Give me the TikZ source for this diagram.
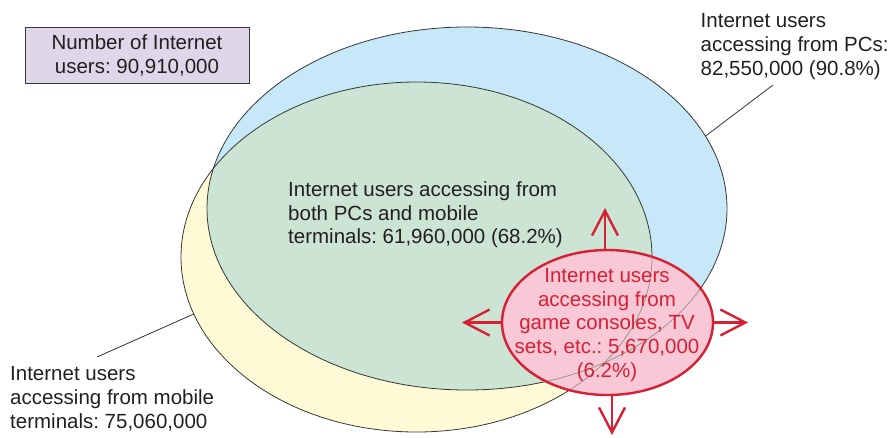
\documentclass[tikz,border=0pt]{standalone}
\usepackage{fontspec}
\setmainfont{Liberation Sans}
\usetikzlibrary{shapes.geometric,arrows.meta,calc}

\definecolor{pcblue}{RGB}{198,232,248}
\definecolor{mobyellow}{RGB}{255,250,214}
\definecolor{bothgreen}{RGB}{203,228,211}
\definecolor{gamepink}{RGB}{248,200,214}
\definecolor{gamered}{RGB}{214,32,52}
\definecolor{lavender}{RGB}{224,214,233}
\definecolor{ink}{RGB}{35,31,32}
\definecolor{outline}{RGB}{55,55,55}
\definecolor{ghost}{RGB}{150,150,150}

\begin{document}
\frenchspacing
\begin{tikzpicture}[x=1pt,y=-1pt,
  txt/.style={font=\fontsize{20.5}{23.8}\selectfont, text=ink, inner sep=0pt},
  setline/.style={draw=outline, line width=0.8pt},
  ghostline/.style={draw=ghost, line width=0.8pt},
  leader/.style={draw=outline, line width=0.8pt},
  redarrow/.style={draw=gamered, line width=2.4pt, -{Straight Barb[length=25pt,width=26pt]}},
  pcshape/.style={insert path={(467,208.5) ellipse [x radius=260, y radius=181.5]}},
  mobshape/.style={insert path={(416.5,257) ellipse [x radius=235.5, y radius=175]}},
  gameshape/.style={insert path={(607.5,322.5) ellipse [x radius=105.5, y radius=72.5]}},
]
\useasboundingbox (0,0) rectangle (891,437);

% the two sets and their overlap
\fill[pcblue, pcshape];
\fill[mobyellow, mobshape];
\begin{scope}
  \clip[pcshape];
  \fill[bothgreen, mobshape];
\end{scope}
\draw[setline, pcshape];
\draw[setline, mobshape];

% total count
\node[txt, draw=outline, fill=lavender, line width=0.8pt,
      minimum width=224pt, minimum height=56pt, align=center]
  (total) at (137,55) {Number of Internet\\users: 90,910,000};

% PC set label
\node[txt, anchor=north west, align=left] (pclabel) at (700.5,13.3)
  {Internet users\\accessing from PCs:\\82,550,000 (90.8\%)};
\coordinate (pcfoot) at (773,85);
\coordinate (pcedge) at ($(467,208.5)+(-23.5:260 and 181.5)$);
\draw[leader] (pcfoot) -- (pcedge);

% mobile set label
\node[txt, anchor=north west, align=left] (moblabel) at (10,366.3)
  {Internet users\\accessing from mobile\\terminals: 75,060,000};
\coordinate (mobfoot) at (97,357);
\coordinate (mobedge) at ($(416.5,257)+(161:235.5 and 175)$);
\draw[leader] (mobfoot) -- (mobedge);

% overlap label
\node[txt, anchor=north west, align=left] (bothlabel) at (288,181.3)
  {Internet users accessing from\\both PCs and mobile\\terminals: 61,960,000 (68.2\%)};

% game consoles / TV set
\node[ellipse, fill=gamepink, minimum width=211pt, minimum height=145pt,
      inner sep=0pt] (game) at (607.5,322.5) {};
\begin{scope}
  \clip[gameshape];
  \draw[ghostline, pcshape];
  \draw[ghostline, mobshape];
\end{scope}
\draw[gamered, line width=2.4pt, gameshape];

\coordinate (tipN) at (605,208);
\coordinate (tipS) at (612,435);
\coordinate (tipW) at (462,323);
\coordinate (tipE) at (748,323);
\draw[redarrow] (tipN |- game.north) -- (tipN);
\draw[redarrow] (tipS |- game.south) -- (tipS);
\draw[redarrow] (game.west) -- (tipW |- game.west);
\draw[redarrow] (game.east) -- (tipE |- game.east);

\node[txt, text=gamered, align=center] (gametext) at (607,325)
  {Internet users\\accessing from\\game consoles, TV\\sets, etc.: 5,670,000\\(6.2\%)};
\end{tikzpicture}
\end{document}
